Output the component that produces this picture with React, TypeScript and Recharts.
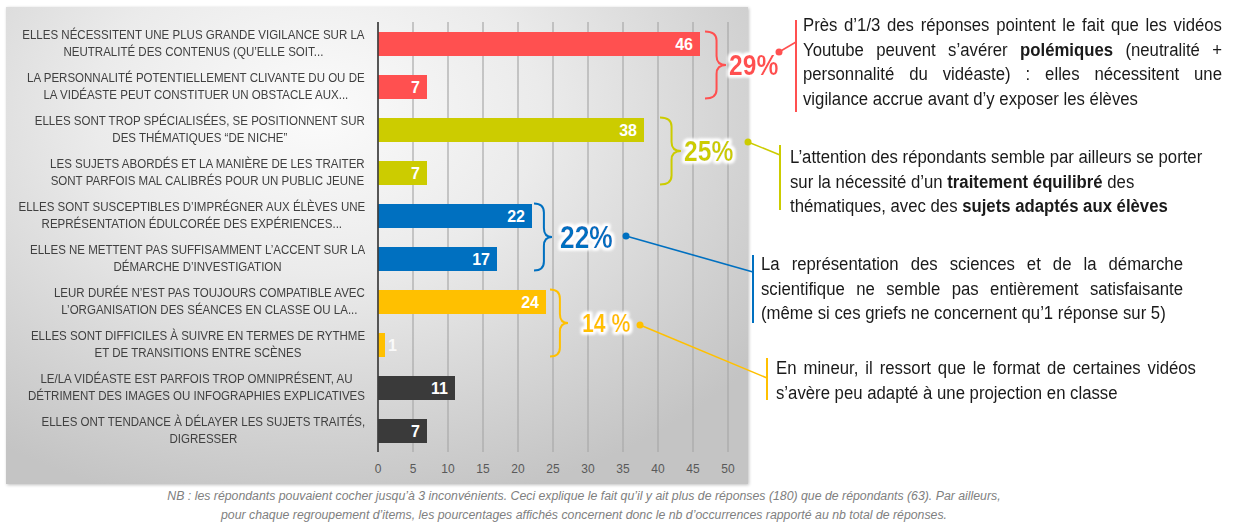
import { BarChart, Bar, XAxis, YAxis, CartesianGrid, LabelList, Cell } from 'recharts'

const categories: string[][] = [
  ['ELLES NÉCESSITENT UNE PLUS GRANDE VIGILANCE SUR LA', 'NEUTRALITÉ DES CONTENUS (QU’ELLE SOIT...'],
  ['LA PERSONNALITÉ POTENTIELLEMENT CLIVANTE DU OU DE', 'LA VIDÉASTE PEUT CONSTITUER UN OBSTACLE AUX...'],
  ['ELLES SONT TROP SPÉCIALISÉES, SE POSITIONNENT SUR', 'DES THÉMATIQUES “DE NICHE”'],
  ['LES SUJETS ABORDÉS ET LA MANIÈRE DE LES TRAITER', 'SONT PARFOIS MAL CALIBRÉS POUR UN PUBLIC JEUNE'],
  ['ELLES SONT SUSCEPTIBLES D’IMPRÉGNER AUX ÉLÈVES UNE', 'REPRÉSENTATION ÉDULCORÉE DES EXPÉRIENCES...'],
  ['ELLES NE METTENT PAS SUFFISAMMENT L’ACCENT SUR LA', 'DÉMARCHE D’INVESTIGATION'],
  ['LEUR DURÉE N’EST PAS TOUJOURS COMPATIBLE AVEC', 'L’ORGANISATION DES SÉANCES EN CLASSE OU LA...'],
  ['ELLES SONT DIFFICILES  À SUIVRE EN TERMES DE RYTHME', 'ET DE TRANSITIONS ENTRE SCÈNES'],
  ['LE/LA VIDÉASTE EST PARFOIS TROP OMNIPRÉSENT, AU', 'DÉTRIMENT DES IMAGES OU INFOGRAPHIES EXPLICATIVES'],
  ['ELLES ONT TENDANCE À DÉLAYER LES SUJETS TRAITÉS,', 'DIGRESSER'],
]
const values = [46, 7, 38, 7, 22, 17, 24, 1, 11, 7]
const barColors = ['#FF5050', '#FF5050', '#CCCC00', '#CCCC00', '#0070C0', '#0070C0', '#FFC000', '#FFC000', '#3A3A3A', '#3A3A3A']
const xTicks = [0, 5, 10, 15, 20, 25, 30, 35, 40, 45, 50]

// item groups: first / last category index, share of answers
const groupLabels = ['29%', '25%', '22%', '14 %']
const groupFirst = [0, 2, 4, 6]
const groupLast = [1, 3, 5, 7]
const groupColors = ['#FF5050', '#CCCC00', '#0070C0', '#FFC000']

const noteLines: string[][] = [
  ['Près d’1/3 des réponses pointent le fait que les vidéos', 'Youtube peuvent s’avérer **polémiques** (neutralité +', 'personnalité du vidéaste) : elles nécessitent une', 'vigilance accrue avant d’y exposer les élèves'],
  ['L’attention des répondants semble par ailleurs se porter', 'sur la nécessité d’un **traitement équilibré** des', 'thématiques, avec des **sujets adaptés aux élèves**'],
  ['La représentation des sciences et de la démarche', 'scientifique ne semble pas entièrement satisfaisante', '(même si ces griefs ne concernent qu’1 réponse sur 5)'],
  ['En mineur, il ressort que le format de certaines vidéos', 's’avère peu adapté à une projection en classe'],
]
const footnote = [
  'NB : les répondants pouvaient cocher jusqu’à 3 inconvénients. Ceci explique le fait qu’il y ait plus de réponses (180) que de répondants (63). Par ailleurs,',
  'pour chaque regroupement d’items, les pourcentages affichés concernent donc le nb d’occurrences rapporté au nb total de réponses.',
]

const data = categories.map((c, i) => ({ name: c.join('|'), value: values[i] }))

const SANS = "'Liberation Sans', Arial, sans-serif"

// chart geometry (plot area 378..728 x 22..452)
const CH_W = 760
const CH_H = 490
const M = { top: 22, right: 32, left: 0, bottom: 8 }
const Y_W = 378
const X_H = 30
const plotTop = M.top
const plotH = CH_H - M.top - M.bottom - X_H
const band = plotH / categories.length
const barSize = 24

// annotation layout (decoration only)
const braceX = [705, 660, 534, 550]
const braceW = [21, 21, 18, 18]
const pctDx = [3, 3, 8, 14]
const pctSize = [29, 29, 31, 25]
const dots = [[779, 52], [748, 142], [626, 236], [640, 325]]
const noteBar = [
  { x: 796, y1: 20, y2: 112, hit: 42 },
  { x: 780, y1: 145, y2: 210, hit: 155 },
  { x: 753, y1: 255, y2: 323, hit: 272 },
  { x: 767, y1: 358, y2: 400, hit: 378 },
]
const noteBox = [
  { left: 803, top: 13, width: 419, justify: true },
  { left: 790, top: 145, width: 430, justify: false },
  { left: 761, top: 252, width: 422, justify: true },
  { left: 776, top: 356, width: 420, justify: true },
]
const NOTE_SX = 0.93

function CatTick({ x, y, payload }: any) {
  const lines = String(payload.value).split('|')
  return (
    <foreignObject x={0} y={y - 20} width={x - 5} height={40}>
      <div style={{ display: 'flex', justifyContent: 'flex-end', alignItems: 'center', height: 40 }}>
        <div
          style={{
            textAlign: 'center', fontFamily: SANS, fontSize: 12, lineHeight: '17px', color: '#404040',
            whiteSpace: 'nowrap', transform: 'scaleX(0.96)', transformOrigin: 'right center',
          }}
        >
          {lines.map((l, i) => <div key={i}>{l}</div>)}
        </div>
      </div>
    </foreignObject>
  )
}

function ValueLabel({ x, y, width, height, value }: any) {
  const outside = value < 3
  return (
    <text
      x={outside ? x + width + 3 : x + width - 7}
      y={y + height / 2}
      dy="0.36em"
      textAnchor={outside ? 'start' : 'end'}
      fill="#fff"
      fillOpacity={outside ? 0.85 : 1}
      fontFamily={SANS}
      fontWeight="bold"
      fontSize={16}
    >
      {value}
    </text>
  )
}

function rich(line: string) {
  return line.split('**').map((s, i) => (i % 2 ? <b key={i}>{s}</b> : <span key={i}>{s}</span>))
}

function bracePath(x0: number, w: number, yt: number, yb: number) {
  const xm = x0 + w * 0.55
  const x1 = x0 + w
  const ym = (yt + yb) / 2
  const r = 9
  return `M${x0},${yt} Q${xm},${yt} ${xm},${yt + r} L${xm},${ym - r} Q${xm},${ym} ${x1},${ym} Q${xm},${ym} ${xm},${ym + r} L${xm},${yb - r} Q${xm},${yb} ${x0},${yb}`
}

export default function App() {
  return (
    <div style={{ position: 'absolute', left: 0, top: 0, width: 1234, height: 524, background: '#fff', overflow: 'hidden' }}>
      <div
        style={{
          position: 'absolute', left: 6, top: 7, width: 742, height: 477,
          background: 'radial-gradient(ellipse 75% 85% at 42% 22%, #fbfbfb 0%, #ebebeb 40%, #d4d4d4 75%, #c4c4c4 100%)',
          boxShadow: '1px 1px 3px rgba(0,0,0,0.25)',
        }}
      />
      <div style={{ position: 'absolute', left: 0, top: 0 }}>
        <BarChart width={CH_W} height={CH_H} data={data} layout="vertical" margin={M} barSize={barSize}>
          <CartesianGrid horizontal={false} stroke="#a8a8a8" strokeWidth={1.2} />
          <XAxis
            type="number" domain={[0, 50]} ticks={xTicks} height={X_H}
            axisLine={false} tickLine={false} tickMargin={6}
            tick={{ fill: '#595959', fontSize: 12, fontFamily: SANS }}
          />
          <YAxis
            type="category" dataKey="name" width={Y_W}
            axisLine={{ stroke: '#3a3a3a', strokeWidth: 1.6 }} tickLine={false}
            tick={<CatTick />} interval={0}
          />
          <Bar dataKey="value" isAnimationActive={false}>
            {data.map((d, i) => <Cell key={d.name} fill={barColors[i]} />)}
            <LabelList dataKey="value" content={<ValueLabel />} />
          </Bar>
        </BarChart>
      </div>

      <svg width={1234} height={524} style={{ position: 'absolute', left: 0, top: 0, pointerEvents: 'none' }}>
        <defs>
          <filter id="glow" x="-20%" y="-30%" width="140%" height="160%">
            <feMorphology in="SourceAlpha" operator="dilate" radius="2" result="d" />
            <feGaussianBlur in="d" stdDeviation="1.6" result="b" />
            <feFlood floodColor="#ffffff" />
            <feComposite in2="b" operator="in" result="halo" />
            <feMerge>
              <feMergeNode in="halo" />
              <feMergeNode in="halo" />
              <feMergeNode in="SourceGraphic" />
            </feMerge>
          </filter>
        </defs>
        {groupLabels.map((lab, g) => {
          const yt = plotTop + groupFirst[g] * band + (band - barSize) / 2
          const yb = plotTop + (groupLast[g] + 1) * band - (band - barSize) / 2
          const ym = (yt + yb) / 2
          const c = groupColors[g]
          const nb = noteBar[g]
          return (
            <g key={lab}>
              <path d={bracePath(braceX[g], braceW[g], yt, yb)} fill="none" stroke={c} strokeWidth={2} />
              <g transform={`translate(${braceX[g] + braceW[g] + pctDx[g]},${ym}) scale(0.85,1)`}>
                <text x={0} y={0} dy="0.36em" fill={c} fontFamily={SANS} fontWeight="bold" fontSize={pctSize[g]} filter="url(#glow)">
                  {lab}
                </text>
              </g>
              <line x1={dots[g][0]} y1={dots[g][1]} x2={nb.x} y2={nb.hit} stroke={c} strokeWidth={1.6} />
              <circle cx={dots[g][0]} cy={dots[g][1]} r={3.5} fill={c} />
              <line x1={nb.x} y1={nb.y1} x2={nb.x} y2={nb.y2} stroke={c} strokeWidth={2} />
            </g>
          )
        })}
      </svg>

      {noteLines.map((lines, n) => (
        <div
          key={n}
          style={{
            position: 'absolute', left: noteBox[n].left, top: noteBox[n].top, width: noteBox[n].width / NOTE_SX,
            transform: `scaleX(${NOTE_SX})`, transformOrigin: 'left top',
            fontFamily: SANS, fontSize: 18, lineHeight: '24.5px', color: '#1a1a1a',
          }}
        >
          {lines.map((l, i) => (
            <div
              key={i}
              style={{
                textAlign: noteBox[n].justify ? 'justify' : 'left',
                textAlignLast: noteBox[n].justify && i < lines.length - 1 ? 'justify' : 'left',
                whiteSpace: 'nowrap',
              }}
            >
              {rich(l)}
            </div>
          ))}
        </div>
      ))}

      <div
        style={{
          position: 'absolute', left: 0, top: 487, width: 1168, textAlign: 'center',
          fontFamily: SANS, fontStyle: 'italic', fontSize: 12.3, lineHeight: '19px', color: '#808080',
        }}
      >
        {footnote.map((l, i) => <div key={i}>{l}</div>)}
      </div>
    </div>
  )
}
